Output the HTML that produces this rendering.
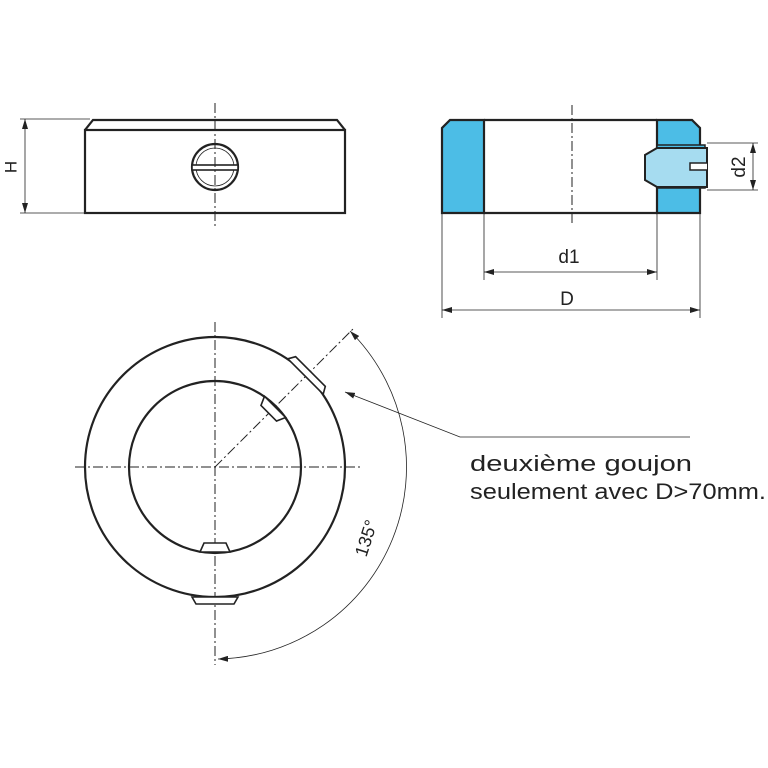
<!DOCTYPE html>
<html><head><meta charset="utf-8"><style>html,body{margin:0;padding:0;background:#fff}svg{display:block}</style></head>
<body>
<svg width="768" height="768" viewBox="0 0 768 768" xmlns="http://www.w3.org/2000/svg" font-family="Liberation Sans, sans-serif">
<defs>
<marker id="a" viewBox="0 0 10 6" refX="10" refY="3" markerWidth="10" markerHeight="6" orient="auto-start-reverse" markerUnits="userSpaceOnUse"><path d="M0,0 L10,3 L0,6z" fill="#222"/></marker>
</defs>
<g stroke="#222" fill="none">
<path d="M85,130 L93,120 L337,120 L345,130" stroke-width="2.2"/>
<rect x="85" y="130" width="260" height="83" stroke-width="2.2"/>
<circle cx="215" cy="167" r="23" stroke-width="2.2"/>
<circle cx="215" cy="167" r="19" stroke-width="0.8"/>
<rect x="192" y="165" width="46" height="5" stroke-width="1.6" fill="#fff"/>
<line x1="215" y1="103" x2="215" y2="228" stroke-width="1" stroke-dasharray="10,3,2,3"/>
<line x1="20" y1="119" x2="90" y2="119" stroke-width="0.8"/>
<line x1="20" y1="213" x2="85" y2="213" stroke-width="0.8"/>
<line x1="25" y1="119" x2="25" y2="213" stroke-width="0.8" marker-start="url(#a)" marker-end="url(#a)"/>
</g>
<text x="12" y="167" font-size="17" fill="#222" text-anchor="middle" transform="rotate(-90 12 167)" dominant-baseline="middle">H</text>

<g stroke="#222">
<path d="M442,213 L442,128 L450,120 L484,120 L484,213z" fill="#4cbde6" stroke-width="2.2"/>
<path d="M657,213 L657,120 L692,120 L700,128 L700,213z" fill="#4cbde6" stroke-width="2.2"/>
<line x1="484" y1="120" x2="657" y2="120" stroke-width="2.2"/>
<line x1="484" y1="213" x2="657" y2="213" stroke-width="2.2"/>
<rect x="657" y="145" width="48" height="43" fill="#4cbde6" stroke-width="1.5"/>
<path d="M657,148 L645,155 L645,180 L657,187 L707,187 L707,148z" fill="#a6dcf0" stroke-width="2"/>
<path d="M707,163 L690,163 L690,170 L707,170" fill="#fff" stroke-width="1.5"/>
<line x1="572" y1="105" x2="572" y2="225" stroke-width="1" stroke-dasharray="10,3,2,3" fill="none"/>
<g stroke-width="0.8" fill="none">
<line x1="707" y1="143" x2="758" y2="143"/>
<line x1="707" y1="190" x2="758" y2="190"/>
<line x1="753" y1="143" x2="753" y2="190" marker-start="url(#a)" marker-end="url(#a)"/>
<line x1="484" y1="213" x2="484" y2="280"/>
<line x1="657" y1="213" x2="657" y2="280"/>
<line x1="442" y1="213" x2="442" y2="318"/>
<line x1="700" y1="213" x2="700" y2="318"/>
<line x1="484" y1="272" x2="657" y2="272" marker-start="url(#a)" marker-end="url(#a)"/>
<line x1="442" y1="310" x2="700" y2="310" marker-start="url(#a)" marker-end="url(#a)"/>
</g>
</g>
<text x="569" y="263" font-size="19" fill="#222" text-anchor="middle">d1</text>
<text x="567" y="305" font-size="19" fill="#222" text-anchor="middle">D</text>
<text x="740" y="167" font-size="19" fill="#222" text-anchor="middle" dominant-baseline="middle" transform="rotate(-90 740 167)">d2</text>

<g stroke="#222" fill="none">
<circle cx="215" cy="467" r="130" stroke-width="2.2"/>
<circle cx="215" cy="467" r="86" stroke-width="2.2"/>
<line x1="215" y1="322" x2="215" y2="665" stroke-width="1" stroke-dasharray="10,3,2,3"/>
<line x1="75" y1="467" x2="360" y2="467" stroke-width="1" stroke-dasharray="10,3,2,3"/>
<line x1="215" y1="467" x2="355" y2="327" stroke-width="1" stroke-dasharray="10,3,2,3"/>
<g stroke-width="1.6" fill="#fff">
<path d="M204,543 L226,543 L230,552 L200,552z"/>
<path d="M192,597 L238,597 L234,604 L196,604z"/>
</g>
<g transform="rotate(-135 215 467)" stroke-width="1.6" fill="#fff">
<path d="M204,543 L226,543 L230,552 L200,552z"/>
<path d="M190,595 L240,595 L236,602 L194,602z"/>
</g>
<path d="M350,331 A192,192 0 0 1 218,659" stroke-width="0.8" marker-start="url(#a)" marker-end="url(#a)"/>
<polyline points="690,437 460,437 345,392" stroke-width="0.8" marker-end="url(#a)"/>
</g>
<text x="372" y="540" font-size="18" fill="#222" text-anchor="middle" transform="rotate(-72 372 540)">135°</text>
<text x="470" y="471" font-size="22" fill="#222" textLength="222" lengthAdjust="spacingAndGlyphs">deuxième goujon</text>
<text x="470" y="499" font-size="22" fill="#222" textLength="296" lengthAdjust="spacingAndGlyphs">seulement avec D&gt;70mm.</text>
</svg>
</body></html>
